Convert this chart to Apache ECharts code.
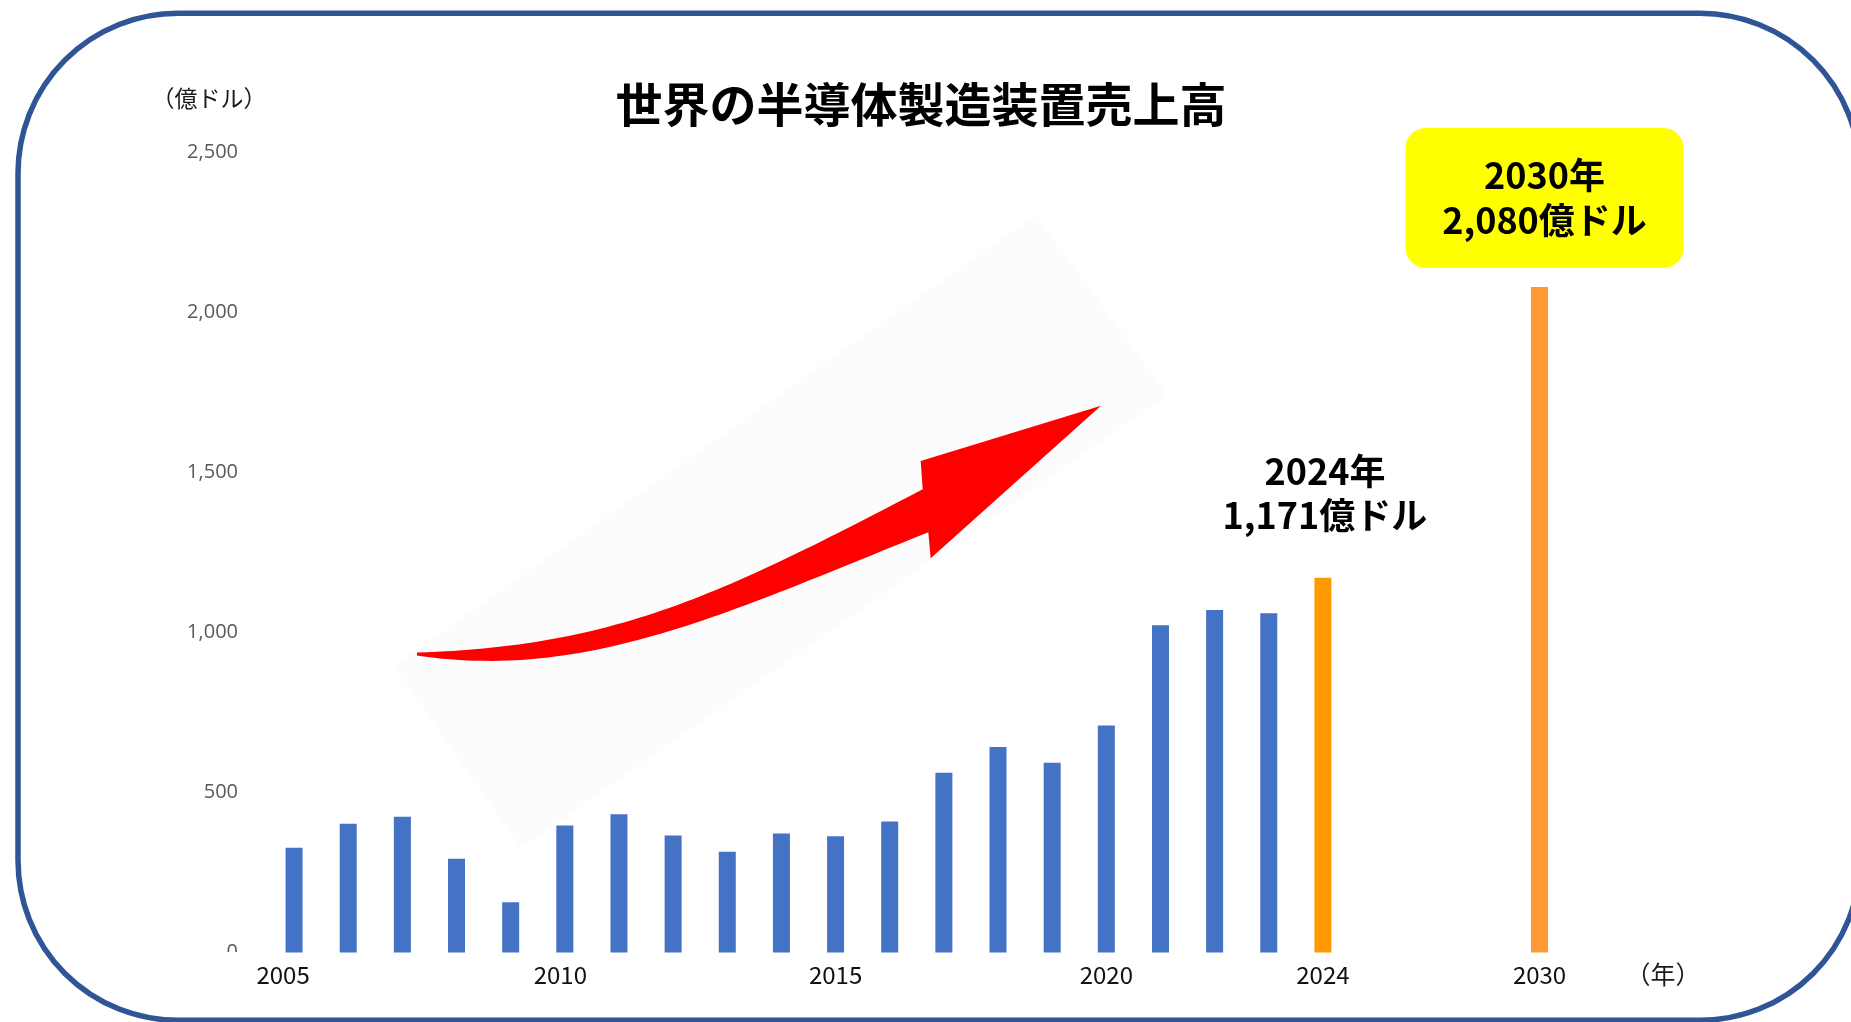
<!DOCTYPE html>
<html>
<head>
<meta charset="utf-8">
<script src="https://cdn.jsdelivr.net/npm/echarts@6/dist/echarts.min.js"></script>
<style>
html,body{margin:0;padding:0;background:#fff;}
#c{width:1851px;height:1022px;}
</style>
</head>
<body>
<div id="c"></div>
<script>
// ---- data ----
const chartTitle = '世界の半導体製造装置売上高';
const yUnit = '（億ドル）';
const xUnit = '（年）';
const years = ['2005','2006','2007','2008','2009','2010','2011','2012','2013','2014',
               '2015','2016','2017','2018','2019','2020','2021','2022','2023','2024',
               ' ','  ','   ','2030'];
const sales = [327, 402, 424, 293, 157, 397, 432, 366, 315, 372,
               363, 409, 562, 642, 593, 709, 1023, 1070, 1060, 1171,
               null, null, null, 2080];
const xTickLabels = ['2005','2010','2015','2020','2024','2030'];
const yTicks = [0, 500, 1000, 1500, 2000, 2500];
const actualYear = '2024';
const forecastYear = '2030';

// ---- styles ----
const JP = '"Noto Sans CJK JP", "Noto Sans", sans-serif';
const BLUE = '#4472C4', ORANGE = '#FF9900', ORANGE2 = '#FF9933';
const labelShift = {'2005': 22, '2010': 9};

function bezier(p0, p1, p2, p3, steps) {
  const out = [];
  for (let s = 0; s <= steps; s++) {
    const t = s / steps, u = 1 - t;
    const a = u * u * u, b = 3 * u * u * t, c = 3 * u * t * t, d = t * t * t;
    out.push([a * p0[0] + b * p1[0] + c * p2[0] + d * p3[0], a * p0[1] + b * p1[1] + c * p2[1] + d * p3[1]]);
  }
  return out;
}
// decorative arrow outline (pixel positions of the illustration)
const arrowUpper = bezier([417,652.5], [617,646.5], [722.7,593.3], [922.7,489.3], 60);
const arrowLower = bezier([417,655.5], [587,681], [728.3,612.3], [928.3,532.3], 60);
const arrowHead = [[920.7,461],[1101,405.7],[930.7,558.3]];
const arrowPts = arrowUpper.concat(arrowHead).concat(arrowLower.slice().reverse());

const chart = echarts.init(document.getElementById('c'), null, {renderer: 'canvas'});

const barData = sales.map((v, i) => {
  const name = years[i];
  let color = BLUE;
  if (name === actualYear) color = ORANGE;
  if (name === forecastYear) color = ORANGE2;
  const item = {value: v, itemStyle: {color: color}};
  if (name === actualYear) {
    item.label = {
      show: true, position: 'top', distance: 40, offset: [2, 0],
      formatter: p => p.name + '年\n' + p.value.toLocaleString('en-US') + '億ドル',
      fontFamily: JP, fontSize: 36, fontWeight: 'bold', color: '#000', lineHeight: 44, align: 'center'
    };
  }
  if (name === forecastYear) {
    item.label = {
      show: true, position: 'top', distance: 19, offset: [5, 0],
      formatter: p => p.name + '年\n' + p.value.toLocaleString('en-US') + '億ドル',
      fontFamily: JP, fontSize: 36, fontWeight: 'bold', color: '#000', lineHeight: 45,
      backgroundColor: '#FFFF00', borderRadius: 20, padding: [25, 40], width: 198, align: 'center'
    };
  }
  return item;
});

const xData = years.map(y => labelShift[y] ? {value: y, textStyle: {padding: [0, labelShift[y], 0, 0]}} : y);

const option = {
  backgroundColor: '#ffffff',
  animation: false,
  title: {
    text: chartTitle, left: 916, top: 76, textAlign: 'center',
    textStyle: {fontFamily: JP, fontSize: 47, fontWeight: 'bold', color: '#000'}
  },
  grid: {left: 267, right: 284.4, top: 152.5, bottom: 69.5, outerBoundsMode: 'none'},
  xAxis: {
    type: 'category', data: xData,
    axisLine: {show: false}, axisTick: {show: false}, splitLine: {show: false},
    axisLabel: {
      interval: 0, margin: 10,
      formatter: v => xTickLabels.includes(v) ? v : '',
      fontFamily: JP, fontSize: 24, color: '#111'
    }
  },
  yAxis: {
    type: 'value', min: yTicks[0], max: yTicks[yTicks.length - 1], interval: yTicks[1] - yTicks[0],
    axisLine: {show: false}, axisTick: {show: false}, splitLine: {show: false},
    axisLabel: {
      margin: 29, formatter: v => v.toLocaleString('en-US'),
      fontFamily: '"Open Sans", "Noto Sans", sans-serif', fontSize: 20, color: '#595959'
    }
  },
  series: [{
    type: 'bar', data: barData, barWidth: 17, z: 3
  }],
  graphic: {
    elements: [
      {type: 'polygon', silent: true, z: 1, shape: {points: [[1036,215],[1167,395],[521,848],[394,666]]}, style: {fill: '#FCFCFC'}},
      {type: 'polygon', silent: true, z: 2, shape: {points: arrowPts}, style: {fill: '#FF0000'}},
      {type: 'rect', silent: true, z: 50, shape: {x: 212, y: 952, width: 40, height: 18}, style: {fill: '#ffffff'}},
      {type: 'text', silent: true, z: 5, x: 209, y: 98, style: {text: yUnit, align: 'center', verticalAlign: 'middle', fontFamily: JP, fontSize: 23, fill: '#1a1a1a'}},
      {type: 'text', silent: true, z: 5, x: 1663, y: 974, style: {text: xUnit, align: 'center', verticalAlign: 'middle', fontFamily: JP, fontSize: 25, fill: '#1a1a1a'}},
      {type: 'rect', silent: true, z: 100, shape: {x: 18, y: 13.3, width: 1842, height: 1007, r: 160}, style: {fill: 'none', stroke: '#2F5597', lineWidth: 5.5}}
    ]
  }
};
chart.setOption(option);
</script>
</body>
</html>
